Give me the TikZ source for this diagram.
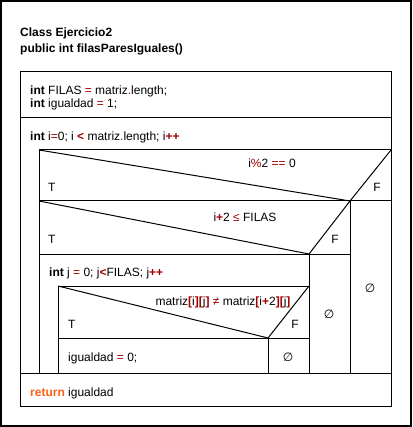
\documentclass[tikz,border=0pt]{standalone}
\usepackage{fontspec}
\setmainfont{Liberation Sans}
\newfontfamily\symfont{DejaVu Sans}
\usepackage{xcolor}
\usetikzlibrary{positioning}
\definecolor{opred}{RGB}{160,0,0}
\definecolor{retorange}{RGB}{255,96,20}
\newcommand{\op}[1]{\textcolor{opred}{#1}}
\newcommand{\bop}[1]{\textcolor{opred}{\bfseries #1}}
\newcommand{\kw}[1]{\textbf{#1}}
\newcommand{\nada}{{\symfont ∅}}

\begin{document}
\begin{tikzpicture}[x=1pt,y=-1pt,every node/.style={font=\fontsize{12}{14}\selectfont,inner sep=0pt}]
\tikzstyle{txt}=[anchor=base west]
\tikzstyle{mid}=[anchor=base]
\tikzstyle{ln}=[draw=black,line width=1pt]
\useasboundingbox (0,0) rectangle (412,427);
% frames
\draw[line width=2pt] (1,1) rectangle (411,426);
\draw[ln] (20,72) rectangle (391,406);
\draw[ln] (20,118) -- (391,118);
\draw[ln] (20,373) -- (391,373);
\draw[ln] (39,150) -- (391,150);
\draw[ln] (39,150) -- (39,373);
% if i%2
\draw[ln] (39,150) -- (350,201) -- (391,150);
\draw[ln] (39,201) -- (391,201);
\draw[ln] (350,201) -- (350,373);
% if i+2
\draw[ln] (39,201) -- (309,254) -- (350,201);
\draw[ln] (39,254) -- (350,254);
\draw[ln] (309,254) -- (309,373);
% for j
\draw[ln] (58,286) -- (309,286);
\draw[ln] (58,286) -- (58,373);
\draw[ln] (58,286) -- (268,338) -- (309,286);
\draw[ln] (58,338) -- (309,338);
\draw[ln] (268,338) -- (268,373);

\node[txt,font=\fontsize{12}{14}\selectfont\bfseries] (title1) at (20,37) {Class Ejercicio2};
\node[txt,font=\fontsize{12}{14}\selectfont\bfseries,below=16pt of title1.base west,anchor=base west] (title2) {public int filasParesIguales()};
\node[txt] (declFilas) at (30,95) {\kw{int} FILAS \op{=} matriz\op{.}length;};
\node[txt,below=13pt of declFilas.base west,anchor=base west] (declIgual) {\kw{int} igualdad \op{=} 1;};
\node[txt] (loopI) at (30,141) {\kw{int} i\op{=}0; i \bop{<} matriz\op{.}length; i\bop{++}};
\node[mid] (condPar) at (272,168) {i\op{\%}2 \op{==} 0};
\node[txt] (tPar) at (48,192) {T};
\node[mid] (fPar) at (377,192) {F};
\node[mid] (condRango) at (245,221) {i\bop{+}2 \op{≤} FILAS};
\node[txt] (tRango) at (48,243) {T};
\node[mid] (fRango) at (335,243) {F};
\node[txt] (loopJ) at (49,276) {\kw{int} j \op{=} 0; j\bop{<}FILAS; j\bop{++}};
\node[mid] (condDist) at (223,305) {matriz\bop{[}i\bop{][}j\bop{]} \op{≠} matriz\bop{[}i\bop{+}2\bop{][}j\bop{]}};
\node[txt] (tDist) at (68,328) {T};
\node[mid] (fDist) at (295,328) {F};
\node[txt] (asigCero) at (68,361) {igualdad \op{=} 0;};
\node (vacio1) at (288,357) {\nada};
\node (vacio2) at (329,314) {\nada};
\node (vacio3) at (370,288) {\nada};
\node[txt] (retIg) at (30,396) {\textcolor{retorange}{\bfseries return} igualdad};
\end{tikzpicture}
\end{document}
